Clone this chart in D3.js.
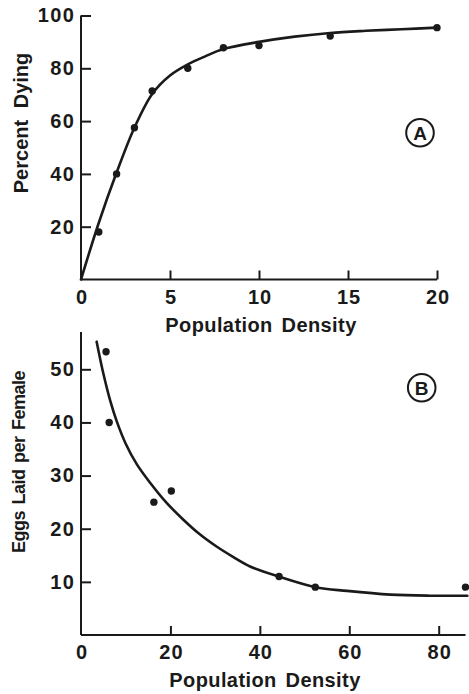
<!DOCTYPE html>
<html>
<head>
<meta charset="utf-8">
<script src="https://cdn.jsdelivr.net/npm/d3@7"></script>
<style>
  html, body { margin: 0; padding: 0; background: #fff; }
  svg { display: block; }
  text { font-family: "Liberation Sans", Arial, sans-serif; font-weight: bold; fill: #1a1a1a; }
</style>
</head>
<body>
<svg id="chart" width="469" height="694"></svg>
<script>
// ---------- Data ----------
// Panel A: percent dying vs population density
const densityA = [1, 2, 3, 4, 6, 8, 10, 14, 20];
const dyingA   = [18, 40, 57.5, 71.4, 80, 87.8, 88.6, 92.2, 95.4];
const curveAx  = [0, 1, 2, 3, 4, 5, 6, 7, 8, 10, 12, 14, 16, 18, 20];
const curveAy  = [0, 21.5, 40.5, 57.5, 70.3, 77.3, 81.5, 84.6, 87.3, 90, 92, 93.4, 94.2, 94.8, 95.4];
const xTicksA  = [0, 5, 10, 15, 20];
const yTicksA  = [20, 40, 60, 80, 100];

// Panel B: eggs laid per female vs population density
const densityB = [5.6, 6.3, 16.3, 20.2, 44.3, 52.4, 86];
const eggsB    = [53.3, 40, 25, 27.1, 11, 9, 9];
const curveBx  = [3.5, 5, 6.5, 8, 10, 12.5, 15.5, 19, 22.9, 26.5, 30.4, 34, 37.8, 44.2, 52.4, 59.5, 69.2, 78, 86.4];
const curveBy  = [55.2, 49.2, 44.2, 40.2, 36, 32.1, 28.6, 25.0, 21.7, 19, 16.6, 14.7, 12.9, 11, 9, 8.3, 7.6, 7.4, 7.4];
const xTicksB  = [0, 20, 40, 60, 80];
const yTicksB  = [10, 20, 30, 40, 50];

const xTitle = "Population Density";
const yTitleA = "Percent Dying";
const yTitleB = "Eggs Laid per Female";
const panelA = "A", panelB = "B";

// ---------- Drawing ----------
const svg = d3.select("#chart");
const ink = "#1a1a1a";

function panel(cfg) {
  const g = svg.append("g");
  const x = d3.scaleLinear().domain(cfg.xDomain).range(cfg.xRange);
  const y = d3.scaleLinear().domain(cfg.yDomain).range(cfg.yRange);

  // axis lines
  g.append("line").attr("x1", x(0)).attr("x2", x(0))
    .attr("y1", y(0)).attr("y2", y(cfg.yMax))
    .attr("stroke", ink).attr("stroke-width", 2);
  g.append("line").attr("x1", x(0)).attr("x2", x(cfg.xMax))
    .attr("y1", y(0)).attr("y2", y(0))
    .attr("stroke", ink).attr("stroke-width", 2);

  // y axis ticks (pointing inward) + labels
  const yAxis = d3.axisLeft(y).tickValues(cfg.yTicks).tickSizeInner(-10).tickSizeOuter(0).tickPadding(7);
  const ya = g.append("g").attr("transform", `translate(${x(0)},0)`).call(yAxis);
  ya.select(".domain").remove();
  ya.selectAll(".tick line").attr("stroke", ink).attr("stroke-width", 2);
  ya.selectAll(".tick text").attr("font-size", 20).attr("letter-spacing", 1.5)
    .attr("dx", 1.5).attr("fill", ink)
    .style("font-family", '"Liberation Sans", Arial, sans-serif').style("font-weight", "bold");

  // x axis ticks (pointing up) + labels
  const xAxis = d3.axisBottom(x).tickValues(cfg.xTicks).tickSizeInner(-9).tickSizeOuter(0).tickPadding(10);
  const xa = g.append("g").attr("transform", `translate(0,${y(0)})`).call(xAxis);
  xa.select(".domain").remove();
  xa.selectAll(".tick line").attr("stroke", ink).attr("stroke-width", 2)
    .attr("display", d => d === 0 ? "none" : null);
  xa.selectAll(".tick text").attr("font-size", 20).attr("letter-spacing", 1)
    .attr("dx", 0.5).attr("dy", "0.72em").attr("y", 10).attr("fill", ink)
    .style("font-family", '"Liberation Sans", Arial, sans-serif').style("font-weight", "bold");

  // fitted curve
  const pts = cfg.cx.map((v, i) => [v, cfg.cy[i]]);
  g.append("path").datum(pts)
    .attr("fill", "none").attr("stroke", ink).attr("stroke-width", 2.6)
    .attr("stroke-linecap", "round")
    .attr("d", d3.line().x(d => x(d[0])).y(d => y(d[1])).curve(d3.curveCatmullRom.alpha(0.5)));

  // data points
  g.selectAll("circle.pt").data(cfg.px.map((v, i) => [v, cfg.py[i]])).enter()
    .append("circle").attr("class", "pt")
    .attr("cx", d => x(d[0])).attr("cy", d => y(d[1])).attr("r", 3.7).attr("fill", ink);

  // x title
  g.append("text").attr("x", cfg.xTitleX).attr("y", y(0) + 52)
    .attr("text-anchor", "middle").attr("font-size", 20).attr("letter-spacing", 0.4)
    .attr("word-spacing", 3).text(xTitle);

  // y title
  g.append("text").attr("transform", `translate(${cfg.yTitleX},${cfg.yTitleY}) rotate(-90)`)
    .attr("text-anchor", "middle").attr("font-size", cfg.yTitleSize)
    .attr("letter-spacing", cfg.yLetterSpacing)
    .attr("word-spacing", cfg.yWordSpacing).text(cfg.yTitle);

  // panel letter in circle
  g.append("circle").attr("cx", cfg.lx).attr("cy", cfg.ly).attr("r", 13.8)
    .attr("fill", "none").attr("stroke", ink).attr("stroke-width", 2);
  g.append("text").attr("x", cfg.lx).attr("y", cfg.ly + 6.8)
    .attr("text-anchor", "middle").attr("font-size", 19).text(cfg.letter);
}

panel({
  xDomain: [0, 20], xRange: [81, 437], xMax: 20,
  yDomain: [0, 100], yRange: [279.5, 15.5], yMax: 100,
  xTicks: xTicksA, yTicks: yTicksA,
  cx: curveAx, cy: curveAy, px: densityA, py: dyingA,
  xTitleX: 261, yTitle: yTitleA, yTitleX: 28, yTitleY: 123, yTitleSize: 20,
  yLetterSpacing: 0, yWordSpacing: 6,
  lx: 420, ly: 132.7, letter: panelA
});

panel({
  xDomain: [0, 80], xRange: [81, 438.7], xMax: 86,
  yDomain: [0, 50], yRange: [635, 369.3], yMax: 57,
  xTicks: xTicksB, yTicks: yTicksB,
  cx: curveBx, cy: curveBy, px: densityB, py: eggsB,
  xTitleX: 265, yTitle: yTitleB, yTitleX: 25, yTitleY: 462, yTitleSize: 18,
  yLetterSpacing: -0.5, yWordSpacing: 2,
  lx: 421.7, ly: 387.7, letter: panelB
});
</script>
</body>
</html>
